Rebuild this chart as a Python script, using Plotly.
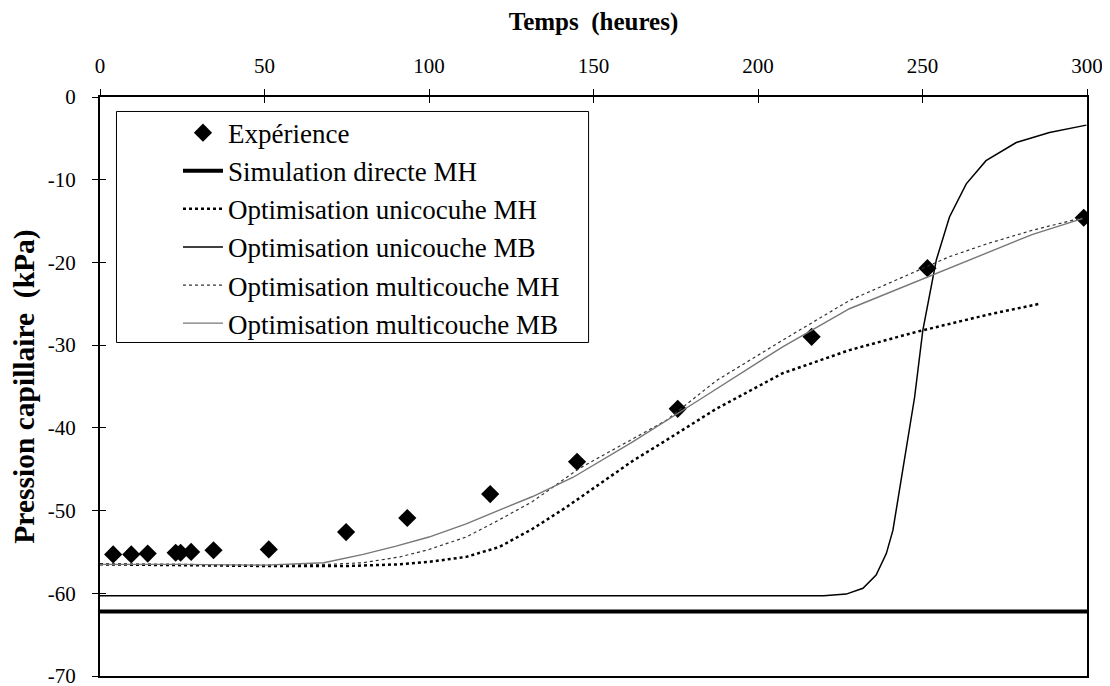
import plotly.graph_objects as go

# ---- data ----
exp_t = [4, 9.5, 14.5, 23, 24.5, 27.7, 34.5, 51.3, 74.8, 93.4, 118.6, 145.0, 175.6, 216.3, 251.5, 299.0]
exp_p = [-55.3, -55.3, -55.2, -55.1, -55.1, -55.0, -54.8, -54.7, -52.6, -50.9, -48.0, -44.1, -37.7, -29.0, -20.7, -14.6]

sim_t = [0, 300]
sim_p = [-62.2, -62.2]

uni_mh_t = [0, 25, 50, 75, 91.2, 100, 111.3, 121.4, 131.5, 141.7, 151.8, 161.9, 172.1, 187.3, 207.5, 227.8, 248.1, 258.2, 270, 285.6]
uni_mh_p = [-56.5, -56.6, -56.7, -56.7, -56.5, -56.2, -55.6, -54.4, -52.2, -49.6, -46.8, -44.0, -41.5, -37.7, -33.4, -30.6, -28.4, -27.4, -26.3, -25.0]

uni_mb_t = [0, 50, 100, 150, 200, 220, 226.8, 231.9, 235.9, 239.0, 241.0, 244.3, 247.6, 250.1, 254.2, 258.2, 263.3, 269.3, 278.5, 288.6, 299.8]
uni_mb_p = [-60.3, -60.3, -60.3, -60.3, -60.3, -60.3, -60.1, -59.4, -57.8, -55.2, -52.4, -44.5, -36.3, -28.2, -19.7, -14.5, -10.5, -7.7, -5.5, -4.3, -3.4]

multi_mh_t = [0, 25, 50, 70, 80, 91.2, 100, 111.3, 121, 131.5, 145.7, 161.9, 172.1, 187.3, 207.5, 227.8, 248.1, 258.2, 270, 283.5, 298.7]
multi_mh_p = [-56.5, -56.5, -56.6, -56.5, -56.3, -55.6, -54.7, -53.2, -51.2, -48.9, -44.9, -41.3, -39.1, -34.3, -29.4, -24.6, -21.0, -19.3, -17.7, -16.1, -14.6]

multi_mb_t = [0, 25, 50, 68, 80, 90, 100, 111.3, 121, 131.5, 143.7, 161.9, 182.2, 207.5, 227.8, 251.1, 258.2, 270, 283.5, 298.6]
multi_mb_p = [-56.5, -56.5, -56.6, -56.3, -55.3, -54.3, -53.2, -51.6, -50.0, -48.3, -46.0, -41.7, -36.6, -30.2, -25.6, -21.8, -20.7, -18.8, -16.6, -14.7]

x_ticks = [0, 50, 100, 150, 200, 250, 300]
x_labels = ["0", "50", "100", "150", "200", "250", "300"]
y_ticks = [0, -10, -20, -30, -40, -50, -60, -70]
y_labels = ["0", "-10", "-20", "-30", "-40", "-50", "-60", "-70"]

names = ["Expérience", "Simulation directe MH", "Optimisation unicocuhe MH",
         "Optimisation unicouche MB", "Optimisation multicouche MH", "Optimisation multicouche MB"]

FONT = "Liberation Serif"

fig = go.Figure()
fig.add_trace(go.Scatter(x=exp_t, y=exp_p, mode="markers", name=names[0],
                         marker=dict(symbol="diamond", size=14, color="black")))
fig.add_trace(go.Scatter(x=sim_t, y=sim_p, mode="lines", name=names[1],
                         line=dict(color="black", width=4)))
fig.add_trace(go.Scatter(x=uni_mh_t, y=uni_mh_p, mode="lines", name=names[2],
                         line=dict(color="black", width=2.5, dash="dot")))
fig.add_trace(go.Scatter(x=uni_mb_t, y=uni_mb_p, mode="lines", name=names[3],
                         line=dict(color="black", width=1.5)))
fig.add_trace(go.Scatter(x=multi_mh_t, y=multi_mh_p, mode="lines", name=names[4],
                         line=dict(color="#333333", width=1.2, dash="3px,3px")))
fig.add_trace(go.Scatter(x=multi_mb_t, y=multi_mb_p, mode="lines", name=names[5],
                         line=dict(color="#777777", width=1.4)))
# empty helper trace so the overlay axes (inner half of the crossing ticks) get drawn
fig.add_trace(go.Scatter(x=[], y=[], xaxis="x2", yaxis="y2", showlegend=False, hoverinfo="skip"))

tick_common = dict(showgrid=False, zeroline=False, tickcolor="black", tickwidth=1)

# page body has an 8px default margin: compensate so the plot sits where the reference has it
fig.update_layout(
    width=1110, height=686,
    margin=dict(l=92, r=31, t=89, b=18, autoexpand=False),
    paper_bgcolor="white", plot_bgcolor="white",
    font=dict(family=FONT, color="black", size=21),
    showlegend=True,
    legend=dict(x=0.079, y=0.98, xanchor="left", yanchor="top",
                bgcolor="rgba(0,0,0,0)", borderwidth=0,
                font=dict(family=FONT, size=27, color="black"),
                itemwidth=40, tracegroupgap=0),
    xaxis=dict(range=[0, 300], side="top", tickvals=x_ticks, ticktext=x_labels,
               showline=True, linecolor="black", linewidth=2, mirror=True,
               ticks="outside", ticklen=6, automargin=False, ticklabelstandoff=8,
               tickfont=dict(family=FONT, size=21),
               title=dict(text="Temps\u00a0 (heures)", standoff=18,
                          font=dict(family=FONT, size=25, weight="bold")),
               **tick_common),
    yaxis=dict(range=[-70, 0], tickvals=y_ticks, ticktext=y_labels,
               showline=True, linecolor="black", linewidth=2, mirror=True,
               ticks="outside", ticklen=6, automargin=False, ticklabelstandoff=12,
               tickfont=dict(family=FONT, size=21),
               title=dict(text="Pression capillaire\u00a0 (kPa)", standoff=9,
                          font=dict(family=FONT, size=29.5, weight="bold")),
               **tick_common),
    xaxis2=dict(range=[0, 300], side="top", overlaying="x", anchor="y2", tickvals=x_ticks,
                showticklabels=False, showline=False, ticks="inside", ticklen=6,
                automargin=False, **tick_common),
    yaxis2=dict(range=[-70, 0], side="left", overlaying="y", anchor="x2", tickvals=y_ticks,
                showticklabels=False, showline=False, ticks="inside", ticklen=6,
                automargin=False, **tick_common),
    shapes=[dict(type="rect", xref="paper", yref="paper",
                 x0=0.0167, x1=0.495, y0=0.576, y1=0.975,
                 line=dict(color="black", width=1), fillcolor="rgba(0,0,0,0)", layer="above")],
)

fig.write_html("out.html")
